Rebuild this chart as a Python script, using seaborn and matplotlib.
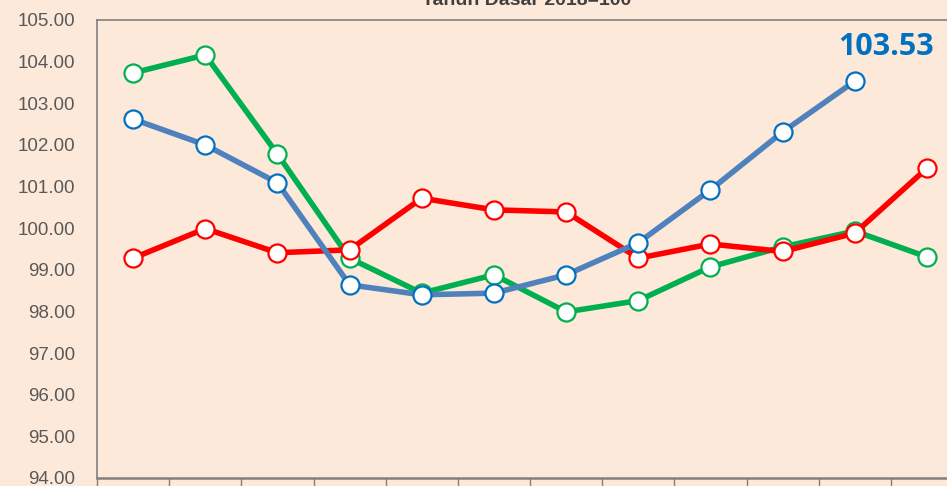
import matplotlib
matplotlib.use("Agg")
import matplotlib.pyplot as plt
import seaborn as sns
import pandas as pd
import numpy as np

months = ["Jan", "Feb", "Mar", "Apr", "Mei", "Jun", "Jul", "Agu", "Sep", "Okt", "Nov", "Des"]
series_green = [103.73, 104.16, 101.78, 99.28, 98.44, 98.88, 97.99, 98.26, 99.07, 99.55, 99.93, 99.31]
series_red = [99.28, 99.99, 99.41, 99.48, 100.72, 100.44, 100.39, 99.28, 99.62, 99.44, 99.88, 101.44]
series_blue = [102.62, 102.00, 101.09, 98.64, 98.40, 98.44, 98.88, 99.65, 100.92, 102.31, 103.53, np.nan]
yticks = [94, 95, 96, 97, 98, 99, 100, 101, 102, 103, 104, 105]
title = "Tahun Dasar 2018=100"
last_label = "103.53"

sns.set_theme(style="white")
plt.rcParams["font.family"] = ["Liberation Sans", "DejaVu Sans"]

bg = "#FDE9D9"
fig = plt.figure(figsize=(9.47, 4.86), dpi=100, facecolor=bg)
W, H = 947, 486
ax = fig.add_axes([97 / W, 8 / H, (963 - 97) / W, (478 - 20) / H])
ax.set_facecolor(bg)

x = np.arange(len(months))
styles = [
    (series_green, "#00B050", "#00B050"),
    (series_red, "#FF0000", "#FF0000"),
    (series_blue, "#4F81BD", "#0070C0"),
]
for vals, lc, ec in styles:
    df = pd.DataFrame({"x": x, "y": vals})
    sns.lineplot(data=df, x="x", y="y", ax=ax, color=lc, linewidth=4.0,
                 marker="o", markersize=13, markerfacecolor="white",
                 markeredgecolor=ec, markeredgewidth=1.6, legend=False)

# data label for last blue point
idx = 10
ax.annotate(last_label, (x[idx], series_blue[idx]), xytext=(-12, 14), textcoords="offset points",
            ha="left", va="bottom", fontsize=22, fontweight="bold", color="#0070C0",
            family=["Open Sans", "DejaVu Sans"])

ax.set_xlim(-0.5, 11.5)
ax.set_ylim(94, 105)
ax.set_yticks(yticks)
ax.set_yticklabels([f"{v:.2f}" for v in yticks], fontsize=13.5, color="#595959")
ax.set_xticks(np.arange(-0.5, 12, 1))
ax.set_xticklabels([])
ax.tick_params(axis="y", length=0, pad=16)
ax.tick_params(axis="x", length=8, width=1, color="#808080", direction="out", bottom=True)
ax.set_xlabel("")
ax.set_ylabel("")
for s in ["left", "bottom", "top", "right"]:
    ax.spines[s].set_color("#808080")
    ax.spines[s].set_linewidth(1.2)
ax.spines["bottom"].set_linewidth(1.8)

fig.text(527 / W, (486 - 5) / H, title, ha="center", va="baseline", fontsize=14,
         fontweight="bold", color="#404040")

fig.savefig("out.png", dpi=100, facecolor=bg)
